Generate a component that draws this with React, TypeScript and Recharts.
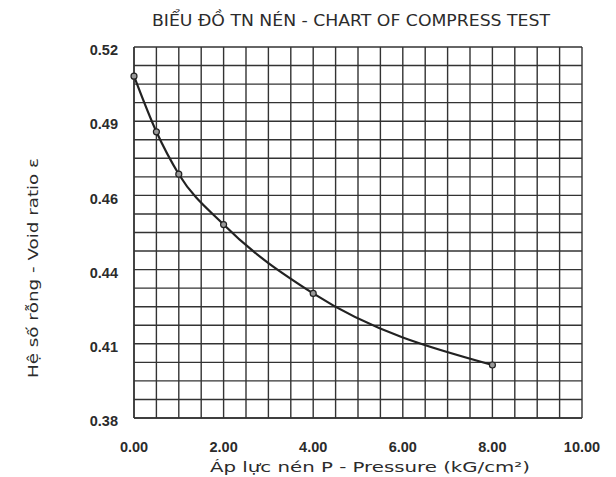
import { LineChart, Line, XAxis, YAxis, CartesianGrid, Label } from "recharts";

const pressure = [0, 0.5, 1, 2, 4, 8];
const voidRatio = [0.509, 0.488, 0.472, 0.453, 0.427, 0.4];

// grid every 0.5 kG/cm2, labels every 2
const xGridTicks = [0, 0.5, 1, 1.5, 2, 2.5, 3, 3.5, 4, 4.5, 5, 5.5, 6, 6.5, 7, 7.5, 8, 8.5, 9, 9.5, 10];
const xLabelTicks = [0, 2, 4, 6, 8, 10];
// grid every 0.007, labels every 0.028
const yGridTicks = [
  0.38, 0.387, 0.394, 0.401, 0.408, 0.415, 0.422, 0.429, 0.436, 0.443, 0.45,
  0.457, 0.464, 0.471, 0.478, 0.485, 0.492, 0.499, 0.506, 0.513, 0.52,
];
const yLabelTicks = [0.38, 0.408, 0.436, 0.464, 0.492, 0.52];

const title = "BIỂU ĐỒ TN NÉN - CHART OF COMPRESS TEST";
const xTitle = "Áp lực nén P - Pressure (kG/cm²)";
const yTitle = "Hệ số rỗng - Void ratio ε";

const data = pressure.map((p, i) => ({ p, e: voidRatio[i] }));

const tickFont = "'Liberation Sans', Arial, sans-serif";
const textFont = "'DejaVu Sans', sans-serif";
const ink = "#2b2b2b";

const XTick = ({ x, y, payload }: any) =>
  xLabelTicks.includes(payload.value) ? (
    <text x={x} y={y} dy="0.355em" textAnchor="middle" fontFamily={tickFont} fontSize={14.5} fontWeight={600} fill={ink}>
      {payload.value.toFixed(2)}
    </text>
  ) : null;

const YTick = ({ x, y, payload }: any) =>
  yLabelTicks.includes(payload.value) ? (
    <text x={x} y={y + 3} dy="0.355em" textAnchor="end" fontFamily={tickFont} fontSize={14.5} fontWeight={600} fill={ink}>
      {payload.value.toFixed(2)}
    </text>
  ) : null;

export default function App() {
  return (
    <div style={{ position: "absolute", left: 0, top: 0, background: "#fff" }}>
      <LineChart width={616} height={477} data={data} margin={{ top: 47, right: 34, bottom: 0, left: 0 }}>
        <text x={351} y={20} dy="0.355em" textAnchor="middle" fontFamily={textFont} fontSize={16} fill={ink}
          textLength={398} lengthAdjust="spacingAndGlyphs">
          {title}
        </text>
        <CartesianGrid stroke="#333" strokeWidth={1.4} />
        <XAxis
          type="number"
          dataKey="p"
          domain={[0, 10]}
          ticks={xGridTicks}
          interval={0}
          tickLine={false}
          tickSize={0}
          tickMargin={29}
          axisLine={{ stroke: "#333", strokeWidth: 1.4 }}
          tick={<XTick />}
          height={59}
        >
          <Label
            content={() => (
              <text x={370} y={467} dy="0.355em" textAnchor="middle" fontFamily={textFont} fontSize={14} fill={ink}
                textLength={320} lengthAdjust="spacingAndGlyphs">
                {xTitle}
              </text>
            )}
          />
        </XAxis>
        <YAxis
          type="number"
          dataKey="e"
          domain={[0.38, 0.52]}
          ticks={yGridTicks}
          interval={0}
          tickLine={false}
          tickSize={0}
          tickMargin={16}
          axisLine={{ stroke: "#333", strokeWidth: 1.4 }}
          tick={<YTick />}
          width={134}
        >
          <Label
            content={() => (
              <text x={33} y={268} dy="0.355em" textAnchor="middle" transform="rotate(-90 33 268)"
                fontFamily={textFont} fontSize={14} fill={ink} textLength={220} lengthAdjust="spacingAndGlyphs">
                {yTitle}
              </text>
            )}
          />
        </YAxis>
        <Line
          type="monotone"
          dataKey="e"
          stroke="#222"
          strokeWidth={2.2}
          dot={{ r: 3, fill: "#999", stroke: "#222", strokeWidth: 1.2 }}
          activeDot={false}
          isAnimationActive={false}
        />
      </LineChart>
    </div>
  );
}
